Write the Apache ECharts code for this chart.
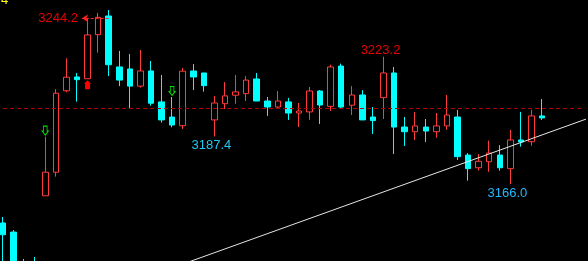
<!DOCTYPE html>
<html><head><meta charset="utf-8">
<script src="https://cdn.jsdelivr.net/npm/echarts@6/dist/echarts.min.js"></script>
<style>html,body{margin:0;padding:0;background:#000;overflow:hidden}#c{width:588px;height:261px}</style>
</head><body><div id="c"></div>
<script>
// ---- data (prices) ----
const categories = Array.from({length: 56}, (_, i) => String(i + 1));
const opens  = [3148.5,3144.4,3129.6,3130.1,3160.7,3171.3,3207.9,3214.1,3213.3,3233.1,3241.5,3218.6,3217.7,3210.0,3216.8,3202.9,3196.1,3192.2,3216.8,3215.9,3194.8,3202.1,3205.9,3206.6,3213.2,3203.3,3200.6,3202.9,3197.9,3198.4,3207.8,3200.9,3219.0,3201.4,3206.0,3196.1,3204.8,3215.9,3191.6,3189.5,3191.6,3189.5,3192.1,3196.1,3179.0,3173.3,3176.0,3179.0,3172.9,3185.8,3185.0,3196.6];
const closes = [3143.2,3125.1,3125.1,3126.5,3171.3,3206.8,3214.0,3212.9,3233.0,3240.9,3219.6,3212.7,3210.0,3216.8,3202.3,3194.8,3192.5,3216.7,3214.1,3210.2,3202.4,3205.6,3207.4,3212.7,3203.3,3200.6,3203.3,3197.9,3198.8,3207.8,3201.5,3218.6,3200.6,3206.0,3194.8,3194.5,3215.9,3191.6,3189.5,3192.1,3189.8,3192.1,3197.0,3178.3,3172.9,3176.2,3179.9,3173.3,3185.8,3184.9,3196.6,3195.7];
const lows   = [3127.4,3122.0,3122.9,3123.8,3160.7,3169.3,3207.2,3203.0,3213.3,3225.0,3214.5,3210.0,3199.8,3209.3,3201.2,3193.6,3191.5,3190.7,3208.2,3207.5,3187.4,3199.7,3202.1,3203.3,3203.3,3196.6,3199.7,3194.8,3191.6,3194.8,3193.0,3198.8,3199.7,3197.0,3194.8,3188.5,3195.2,3179.5,3183.1,3185.8,3184.9,3186.8,3190.4,3176.8,3167.5,3172.0,3171.5,3172.0,3166.0,3182.8,3183.2,3194.8];
const highs  = [3151.2,3145.3,3132.3,3133.2,3187.3,3208.6,3222.5,3215.9,3240.2,3242.9,3244.2,3225.8,3224.4,3226.2,3221.3,3215.0,3205.1,3218.1,3219.9,3215.9,3205.6,3211.8,3215.0,3214.5,3215.9,3205.1,3207.8,3204.7,3202.4,3209.6,3208.2,3219.6,3220.1,3210.0,3208.2,3200.6,3223.2,3218.6,3196.1,3198.4,3195.2,3197.9,3206.0,3199.3,3179.9,3179.5,3185.5,3183.5,3190.3,3198.4,3199.3,3204.2];
const baseLine = 3200.0;            // dashed reference line
const trendX = [17, 56];            // trend line end points (bar index)
const trendY = [3130.0, 3196.6];    // trend line end points (price)
const buyMarks  = [4, 16];          // green hollow arrows (above high)
const sellMarks = [8];              // red filled arrow (below low)
const maxIdx = 10, labelHighIdx = 36, labelLowIdx1 = 20, labelLowIdx2 = 48;
const maxArrowPrice = 3240.5, maxArrowEnd = 7.47;

// ---- chart ----
const RED = '#ff3c3c', CYAN = '#00ffff';
const candleData = opens.map((o, i) => [o, closes[i], lows[i], highs[i]]);
const chart = echarts.init(document.getElementById('c'));
const textLabel = (idx, price, color, offset) => ({
  coord: [idx, price], value: price, symbol: 'rect', symbolSize: 0,
  label: {show: true, position: 'inside', formatter: p => p.value.toFixed(1),
    color: color, fontSize: 13, fontFamily: 'Liberation Sans', offset: offset}
});
const markPts = [
  textLabel(labelHighIdx, highs[labelHighIdx], '#e80000', [-3, -6]),
  textLabel(labelLowIdx1, lows[labelLowIdx1], '#22c8f0', [-3, 9]),
  textLabel(labelLowIdx2, lows[labelLowIdx2], '#22b8ff', [-3, 9])
];
buyMarks.forEach(i => markPts.push({
  coord: [i, highs[i]], symbol: 'path://M1,0 L4,0 L4,4.5 L5,4.5 L2.5,8 L0,4.5 L1,4.5 Z',
  symbolSize: [6, 9], symbolOffset: [0, -6],
  itemStyle: {color: 'transparent', borderColor: '#00e000', borderWidth: 1},
  label: {show: false}
}));
sellMarks.forEach(i => markPts.push({
  coord: [i, lows[i]], symbol: 'path://M3.5,0 L7,3.5 L6,3.5 L6,9 L1,9 L1,3.5 L0,3.5 Z',
  symbolSize: [7, 9], symbolOffset: [0, 6],
  itemStyle: {color: '#ff0000'}, label: {show: false}
}));

const last = categories.length - 1;
chart.setOption({
  animation: false,
  backgroundColor: '#000',
  title: {text: '4', left: 1, top: -6, padding: 0,
    textStyle: {color: '#ffff00', fontSize: 13, fontWeight: 'normal', fontFamily: 'Liberation Sans'}},
  grid: {left: 3, top: 0, width: last * 10.57, height: 261},
  xAxis: [
    {type: 'category', data: categories, show: false, boundaryGap: false},
    {type: 'value', min: 0, max: last, show: false}
  ],
  yAxis: {type: 'value', min: 3131.4, max: 3248.69, show: false, splitLine: {show: false}},
  series: [
    {
      type: 'candlestick', xAxisIndex: 0, data: candleData, barWidth: 6,
      itemStyle: {color: '#000', color0: CYAN, borderColor: RED, borderColor0: CYAN, borderWidth: 1},
      markLine: {silent: true, symbol: 'none', label: {show: false},
        lineStyle: {color: '#b00000', type: [4, 3], width: 1},
        data: [{yAxis: baseLine}]},
      markPoint: {silent: true, data: markPts}
    },
    {
      type: 'line', xAxisIndex: 1, data: trendX.map((x, i) => [x, trendY[i]]),
      symbol: 'none', clip: false, lineStyle: {color: '#e6e6e6', width: 1},
      markLine: {silent: true, symbol: ['none', 'arrow'], symbolSize: 6,
        lineStyle: {color: '#ff2020', type: [3, 2], width: 1},
        label: {show: true, position: 'end', formatter: highs[maxIdx].toFixed(1),
          color: '#e80000', fontSize: 13, fontFamily: 'Liberation Sans', distance: 4},
        data: [[{coord: [maxIdx, maxArrowPrice]}, {coord: [maxArrowEnd, maxArrowPrice]}]]}
    }
  ]
});
</script></body></html>
